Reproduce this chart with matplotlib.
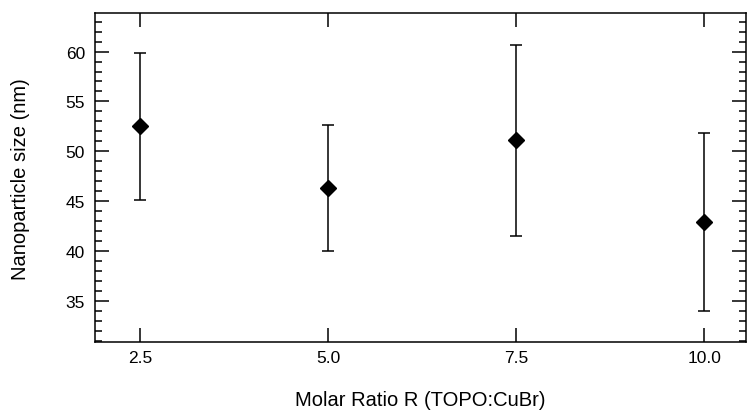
import matplotlib
matplotlib.use("Agg")
import matplotlib.pyplot as plt
from matplotlib.ticker import MultipleLocator

# Mittlere Partikelgroesse je Molverhaeltnis mit Standardabweichung
ratio = [2.5, 5.0, 7.5, 10.0]
size_nm = [52.5, 46.3, 51.1, 42.9]
size_err = [7.4, 6.3, 9.6, 8.9]

plt.rcParams["font.family"] = ["Liberation Sans", "DejaVu Sans"]

fig = plt.figure(figsize=(7.47, 4.14), dpi=100)
ax = fig.add_axes([0.127, 0.171, 0.871, 0.795])

ax.errorbar(ratio, size_nm, yerr=size_err, fmt="D", color="black",
            markersize=8.5, elinewidth=1.1, capsize=4.3, capthick=1.1)

ax.set_xlim(1.9, 10.55)
ax.set_ylim(30.9, 63.85)
ax.set_xticks(ratio)
ax.set_xticklabels([f"{r:.1f}" for r in ratio])
ax.yaxis.set_major_locator(MultipleLocator(5))
ax.yaxis.set_minor_locator(MultipleLocator(1))

ax.tick_params(which="both", direction="in", top=True, right=True,
               labelsize=12.5, width=1.1, color="black")
ax.tick_params(axis="x", pad=5.5)
ax.tick_params(axis="y", pad=7)
ax.tick_params(which="major", length=10)
ax.tick_params(which="minor", length=5)
for s in ax.spines.values():
    s.set_linewidth(1.1)

ax.set_xlabel("Molar Ratio R (TOPO:CuBr)", fontsize=14.5, va="center")
ax.set_ylabel("Nanoparticle size (nm)", fontsize=14.5, va="center")
ax.xaxis.set_label_coords(0.5, -0.175)
ax.yaxis.set_label_coords(-0.115, 0.5)

fig.savefig("out.png", dpi=100)
